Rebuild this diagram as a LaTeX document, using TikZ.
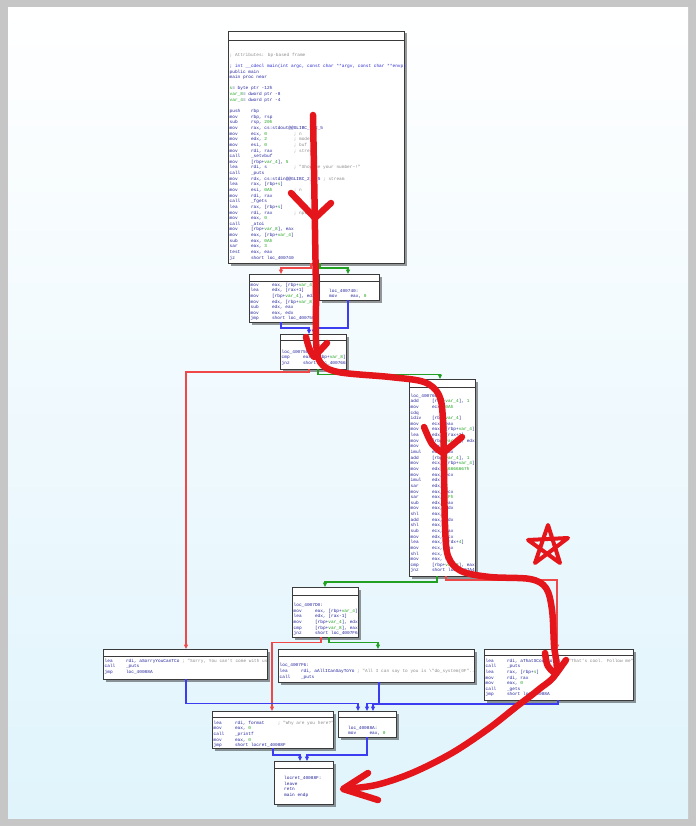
\documentclass[tikz,border=0pt]{standalone}
\usepackage{fontspec}
\newfontfamily\codefont{Liberation Mono}
\usetikzlibrary{arrows.meta,shadows}
\definecolor{framegray}{HTML}{C6C6C6}
\definecolor{bgcyan}{HTML}{E0F4FC}
\definecolor{ins}{HTML}{22229A}
\definecolor{vg}{HTML}{18A018}
\definecolor{cmt}{HTML}{8C8C8C}
\definecolor{lbl}{HTML}{2A2AD0}
\definecolor{bdr}{HTML}{3A3A3A}
\definecolor{redE}{HTML}{F04848}
\definecolor{greenE}{HTML}{22A022}
\definecolor{blueE}{HTML}{3C3CF0}
\definecolor{marker}{HTML}{E5161B}
\newlength\chw \setlength\chw{2.67pt}
\newlength\tmpw
\newcommand\gr[1]{\textcolor{vg}{#1}}
\newcommand\mn[2]{\makebox[8\chw][l]{#1}#2}
\newcommand\mc[3]{\makebox[8\chw][l]{#1}\settowidth\tmpw{#2}\ifdim\tmpw<16\chw\makebox[16\chw][l]{#2}\else#2\ \fi{\color{cmt}#3}}
\newcommand\blk[6]{%
  \node[blockbox, minimum width=#4pt, minimum height=#5pt, anchor=north west] (#1) at (#2,-#3) {};
  \draw[hdr] ([yshift=-#6pt]#1.north west) -- ([yshift=-#6pt]#1.north east);}
\begin{document}
\begin{tikzpicture}[x=1pt,y=1pt,
  blockbox/.style={draw=bdr, line width=0.9pt, fill=white, inner sep=0pt, outer sep=0pt,
    drop shadow={shadow xshift=2.5pt, shadow yshift=-2.5pt, fill=black, opacity=0.4}},
  hdr/.style={draw=bdr, line width=0.7pt},
  code/.style={font={\codefont\fontsize{4.45}{5.64}\selectfont}, text=ins, align=left,
    inner sep=0pt, anchor=north west},
  edgebase/.style={line width=1.1pt, -{Triangle[length=4.5pt,width=4pt]}},
  redge/.style={edgebase, draw=redE},
  gedge/.style={edgebase, draw=greenE},
  bedge/.style={edgebase, draw=blueE},
  redmark/.style={draw=marker, line width=6.5pt, line cap=round, line join=round},
  thinmark/.style={draw=marker, line width=4pt, line cap=round, line join=round}]
\useasboundingbox (0,0) rectangle (696,-826);
% frame and background
\fill[framegray] (0,0) rectangle (696,-826);
\shade[top color=white, bottom color=bgcyan] (8,-8) rectangle (688,-818);

% blocks
\blk{A}{228}{31}{176}{232}{9}
\blk{B}{249}{274}{67}{48}{7}
\blk{C}{319}{274}{60}{26}{7}
\blk{D}{280}{334}{66}{35}{6}
\blk{E}{409}{379}{66}{197}{8}
\blk{F}{292}{587}{66}{50}{8}
\blk{G}{103}{649}{164}{30}{7}
\blk{H}{278}{649}{196}{33}{7}
\blk{I}{484}{649}{149}{51}{6}
\blk{J}{212}{711}{121}{37}{6.5}
\blk{K}{338}{711}{58}{26}{6.5}
\blk{L}{274}{761}{59}{43}{7}

% edges
\draw[redge] (A.south -| 311,0) |- (281,-268) -- (B.north -| 281,0);
\draw[gedge] (A.south -| 320,0) |- (348,-268) -- (C.north -| 348,0);
\draw[bedge] (B.south -| 281,0) |- (309,-328) -- (D.north -| 309,0);
\draw[bedge] (C.south -| 348,0) |- (314,-328) -- (D.north -| 314,0);
\draw[redge] (D.south -| 309,0) |- (186,-372) -- (G.north -| 186,0);
\draw[gedge] (D.south -| 318,0) |- (440,-374.5) -- (E.north -| 440,0);
\draw[gedge] (E.south -| 437,0) |- (325,-582) -- (F.north -| 325,0);
\draw[redge] (E.south -| 446,0) |- (557,-580) -- (I.north -| 557,0);
\draw[redge] (F.south -| 321,0) |- (272,-642.5) -- (J.north -| 272,0);
\draw[gedge] (F.south -| 329,0) |- (378,-642.5) -- (H.north -| 378,0);
\draw[bedge] (G.south -| 186,0) |- (358,-703.5) -- (K.north -| 358,0);
\draw[bedge] (H.south -| 379,0) |- (367,-703.5) -- (K.north -| 367,0);
\draw[bedge] (I.south -| 558,0) |- (373,-704) -- (K.north -| 373,0);
\draw[bedge] (J.south -| 273,0) |- (300,-755) -- (L.north -| 300,0);
\draw[bedge] (K.south -| 367,0) |- (307,-755) -- (L.north -| 307,0);

% code text
\node[code] (At) at (229.5,-52.7) {%
{\color{cmt}; Attributes: bp-based frame}\\
\mbox{}\\
{\color{lbl}; int \_\_cdecl main(int argc, const char **argv, const char **envp)}\\
public main\\
main proc near\\
\mbox{}\\
\gr{s}= byte ptr -12h\\
\gr{var\_8}= dword ptr -8\\
\gr{var\_4}= dword ptr -4\\
\mbox{}\\
\mn{push}{rbp}\\
\mn{mov}{rbp, rsp}\\
\mn{sub}{rsp, \gr{20h}}\\
\mn{mov}{rax, cs:stdout@@GLIBC\_2\_2\_5}\\
\mc{mov}{ecx, \gr{0}}{; n}\\
\mc{mov}{edx, \gr{2}}{; modes}\\
\mc{mov}{esi, \gr{0}}{; buf}\\
\mc{mov}{rdi, rax}{; stream}\\
\mn{call}{\_setvbuf}\\
\mn{mov}{[rbp+\gr{var\_4}], \gr{5}}\\
\mc{lea}{rdi, s}{; "Show me your number\textasciitilde!"}\\
\mn{call}{\_puts}\\
\mc{mov}{rdx, cs:stdin@@GLIBC\_2\_2\_5}{; stream}\\
\mn{lea}{rax, [rbp+\gr{s}]}\\
\mc{mov}{esi, \gr{0Ah}}{; n}\\
\mn{mov}{rdi, rax}\\
\mn{call}{\_fgets}\\
\mn{lea}{rax, [rbp+\gr{s}]}\\
\mc{mov}{rdi, rax}{; nptr}\\
\mn{mov}{eax, \gr{0}}\\
\mn{call}{\_atoi}\\
\mn{mov}{[rbp+\gr{var\_8}], eax}\\
\mn{mov}{eax, [rbp+\gr{var\_4}]}\\
\mn{sub}{eax, \gr{0Ah}}\\
\mn{sar}{eax, \gr{3}}\\
\mn{test}{eax, eax}\\
\mn{jz}{short loc\_400740}};

\node[code] (Bt) at (250.5,-282.7) {%
\mn{mov}{eax, [rbp+\gr{var\_4}]}\\
\mn{lea}{edx, [rax+1]}\\
\mn{mov}{[rbp+\gr{var\_4}], edx}\\
\mn{mov}{edx, [rbp+\gr{var\_8}]}\\
\mn{sub}{edx, eax}\\
\mn{mov}{eax, edx}\\
\mn{jmp}{short loc\_400750}};

\node[code] (Ct) at (329,-288.7) {%
loc\_400740:\\
\mn{mov}{eax, \gr{0}}};

\node[code] (Dt) at (281.5,-349.7) {%
loc\_400750:\\
\mn{cmp}{eax, [rbp+\gr{var\_8}]}\\
\mn{jnz}{short loc\_400766}};

\node[code] (Et) at (410.5,-393.7) {%
loc\_400766:\\
\mn{add}{[rbp+\gr{var\_4}], \gr{1}}\\
\mn{mov}{ecx, \gr{0Ah}}\\
cdq\\
\mn{idiv}{[rbp+\gr{var\_4}]}\\
\mn{mov}{ecx, eax}\\
\mn{mov}{eax, [rbp+\gr{var\_4}]}\\
\mn{lea}{edx, [rax+1]}\\
\mn{mov}{[rbp+\gr{var\_4}], edx}\\
\mn{mov}{eax, ecx}\\
\mn{imul}{eax, edx}\\
\mn{add}{[rbp+\gr{var\_4}], \gr{1}}\\
\mn{mov}{ecx, [rbp+\gr{var\_4}]}\\
\mn{mov}{edx, \gr{66666667h}}\\
\mn{mov}{eax, ecx}\\
\mn{imul}{edx}\\
\mn{sar}{edx, \gr{2}}\\
\mn{mov}{eax, ecx}\\
\mn{sar}{eax, \gr{1Fh}}\\
\mn{sub}{edx, eax}\\
\mn{mov}{eax, edx}\\
\mn{shl}{eax, \gr{2}}\\
\mn{add}{eax, edx}\\
\mn{shl}{eax, \gr{1}}\\
\mn{sub}{ecx, eax}\\
\mn{mov}{edx, ecx}\\
\mn{lea}{eax, [rdx+\gr{4}]}\\
\mn{mov}{ecx, eax}\\
\mn{shl}{ecx, \gr{2}}\\
\mn{mov}{eax, ecx}\\
\mn{cmp}{[rbp+\gr{var\_8}], eax}\\
\mn{jnz}{short loc\_4007A4}};

\node[code] (Ft) at (293.5,-603.2) {%
loc\_4007D0:\\
\mn{mov}{eax, [rbp+\gr{var\_4}]}\\
\mn{lea}{edx, [rax-1]}\\
\mn{mov}{[rbp+\gr{var\_4}], edx}\\
\mn{cmp}{[rbp+\gr{var\_8}], eax}\\
\mn{jnz}{short loc\_4007F6}};

\node[code] (Gt) at (104.5,-658.7) {%
\mc{lea}{rdi, aSorryYouCanTCo}{; "Sorry, You can't come with us"}\\
\mn{call}{\_puts}\\
\mn{jmp}{loc\_40088A}};

\node[code] (Ht) at (279.5,-663.3) {%
loc\_4007F6:\\
\mc{lea}{rdi, aAllICanSayToYo}{; "All I can say to you is \textbackslash"do\_system(0F"...}\\
\mn{call}{\_puts}};

\node[code] (It) at (485.5,-658.7) {%
\mc{lea}{rdi, aThatSCoolFollo}{; "That's cool. Follow me"}\\
\mn{call}{\_puts}\\
\mn{lea}{rax, [rbp+\gr{s}]}\\
\mn{mov}{rdi, rax}\\
\mn{mov}{eax, \gr{0}}\\
\mn{call}{\_gets}\\
\mn{jmp}{short loc\_40088A}};

\node[code] (Jt) at (213.5,-720.7) {%
\mc{lea}{rdi, format}{; "Why are you here?"}\\
\mn{mov}{eax, \gr{0}}\\
\mn{call}{\_printf}\\
\mn{mov}{eax, \gr{0}}\\
\mn{jmp}{short locret\_40088F}};

\node[code] (Kt) at (348,-725.7) {%
loc\_40088A:\\
\mn{mov}{eax, \gr{0}}};

\node[code] (Lt) at (284,-776.2) {%
locret\_40088F:\\
leave\\
retn\\
main endp};

% hand-drawn red annotation
\draw[redmark] plot[smooth, tension=0.55] coordinates {
 (313,-115) (314,-170) (315,-230) (316,-295) (316,-340) (320,-362) (338,-372)
 (390,-377) (424,-382) (439,-395) (443,-420) (444,-470) (445,-525) (448,-556)
 (461,-571) (490,-577) (530,-579) (546,-588) (552,-610) (554,-645) (556,-673)
 (538,-690) (516,-707) (488,-729) (452,-753) (412,-773) (376,-785) (344,-789)};
\draw[redmark] (368,-773) -- (343,-789) -- (378,-800);
\draw[redmark] (291,-193) -- (315,-218) -- (331,-203);
\draw[redmark] (306,-337) .. controls (309,-349) .. (314,-357) -- (327,-343);
\draw[redmark] (424,-427) .. controls (432,-446) .. (443,-453) -- (462,-437);
\draw[redmark] (545,-653) .. controls (547,-667) .. (556,-674) -- (566,-660);
% star
\draw[thinmark] (548,-525) -- (560,-563) -- (528,-540) -- (568,-538) -- (535,-563) -- cycle;
\end{tikzpicture}
\end{document}
